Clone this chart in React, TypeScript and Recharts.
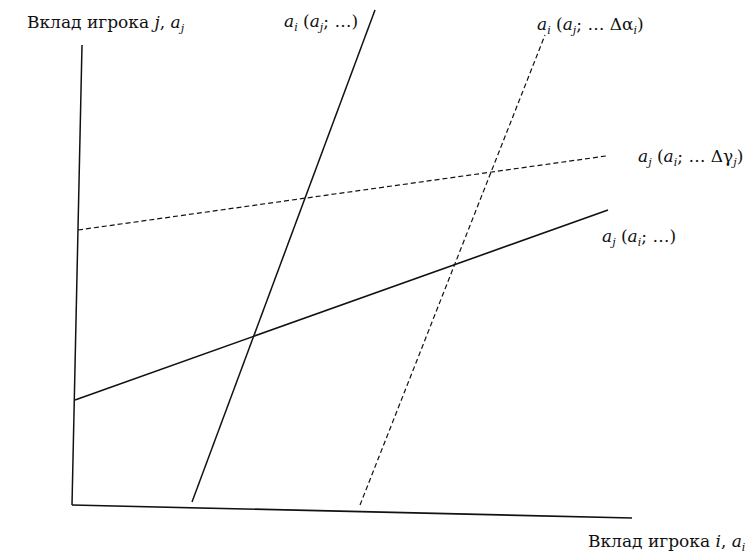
import { LineChart, XAxis, YAxis, ReferenceLine, ReferenceDot } from "recharts";

// plot units: 5px per unit on both axes, the whole svg is the plot area
const X_DOMAIN: [number, number] = [-15, 136];
const Y_DOMAIN: [number, number] = [-10, 102];

type Pt = { x: number; y: number };

// axes, slightly skewed like the printed figure
const axisY: Pt[] = [
  { x: 1.4, y: 93 },
  { x: -0.6, y: 1 },
];
const axisX: Pt[] = [
  { x: -0.6, y: 1 },
  { x: 111.4, y: -1.6 },
];

// reaction of player j to i
const reactJ: Pt[] = [
  { x: 0, y: 22 },
  { x: 106.6, y: 60 },
];
const reactJShifted: Pt[] = [
  { x: 0.6, y: 56 },
  { x: 106.2, y: 70.8 },
];

// reaction of player i to j
const reactI: Pt[] = [
  { x: 23.4, y: 1.6 },
  { x: 60, y: 100 },
];
const reactIShifted: Pt[] = [
  { x: 57, y: 1 },
  { x: 94, y: 95 },
];

// text pieces: r = roman, i = italic, s = italic subscript
type Piece = [string, "r" | "i" | "s"];

const labelYAxis: Piece[] = [["Вклад игрока ", "r"], ["j", "i"], [", ", "r"], ["a", "i"], ["j", "s"]];
const labelXAxis: Piece[] = [["Вклад игрока ", "r"], ["i", "i"], [", ", "r"], ["a", "i"], ["i", "s"]];
const labelReactI: Piece[] = [["a", "i"], ["i", "s"], [" (", "r"], ["a", "i"], ["j", "s"], ["; …)", "r"]];
const labelReactIShifted: Piece[] = [
  ["a", "i"], ["i", "s"], [" (", "r"], ["a", "i"], ["j", "s"], ["; … Δα", "r"], ["i", "s"], [")", "r"],
];
const labelReactJ: Piece[] = [["a", "i"], ["j", "s"], [" (", "r"], ["a", "i"], ["i", "s"], ["; …)", "r"]];
const labelReactJShifted: Piece[] = [
  ["a", "i"], ["j", "s"], [" (", "r"], ["a", "i"], ["i", "s"], ["; … Δγ", "r"], ["j", "s"], [")", "r"],
];

const labels: { x: number; y: number; parts: Piece[] }[] = [
  { x: -9.6, y: 96.4, parts: labelYAxis },
  { x: 41.8, y: 96.6, parts: labelReactI },
  { x: 92.4, y: 96, parts: labelReactIShifted },
  { x: 112.6, y: 69.6, parts: labelReactJShifted },
  { x: 105.4, y: 53.6, parts: labelReactJ },
  { x: 102.6, y: -7.4, parts: labelXAxis },
];

const FONT = "'DejaVu Serif', 'Liberation Serif', serif";

function MathText({ x, y, parts }: { x: number; y: number; parts: Piece[] }) {
  let shifted = false;
  return (
    <text x={x} y={y} fontFamily={FONT} fontSize={17} fill="#111">
      {parts.map(([t, kind], k) => {
        let dy = 0;
        if (kind === "s" && !shifted) {
          dy = 4;
          shifted = true;
        } else if (kind !== "s" && shifted) {
          dy = -4;
          shifted = false;
        }
        return (
          <tspan
            key={k}
            dy={dy}
            fontStyle={kind === "r" ? "normal" : "italic"}
            fontSize={kind === "s" ? 11 : 17}
          >
            {t}
          </tspan>
        );
      })}
    </text>
  );
}

const segments: { pts: Pt[]; width: number; dash?: string }[] = [
  { pts: axisY, width: 1.5 },
  { pts: axisX, width: 1.7 },
  { pts: reactJ, width: 1.6 },
  { pts: reactJShifted, width: 1.2, dash: "5 3" },
  { pts: reactI, width: 1.5 },
  { pts: reactIShifted, width: 1.2, dash: "5 3" },
];

export default function App() {
  return (
    <div style={{ position: "absolute", left: 0, top: 0, background: "#fff" }}>
      <LineChart width={755} height={560} margin={{ top: 0, right: 0, bottom: 0, left: 0 }}>
        <XAxis type="number" dataKey="x" domain={X_DOMAIN} allowDataOverflow hide />
        <YAxis type="number" dataKey="y" domain={Y_DOMAIN} allowDataOverflow hide />
        {segments.map((s, k) => (
          <ReferenceLine
            key={k}
            segment={[s.pts[0], s.pts[1]]}
            stroke="#111"
            strokeWidth={s.width}
            strokeDasharray={s.dash}
            ifOverflow="visible"
          />
        ))}
        {labels.map((l, k) => (
          <ReferenceDot
            key={k}
            x={l.x}
            y={l.y}
            r={0}
            ifOverflow="visible"
            shape={(p: any) => <MathText x={p.cx} y={p.cy} parts={l.parts} />}
          />
        ))}
      </LineChart>
    </div>
  );
}
